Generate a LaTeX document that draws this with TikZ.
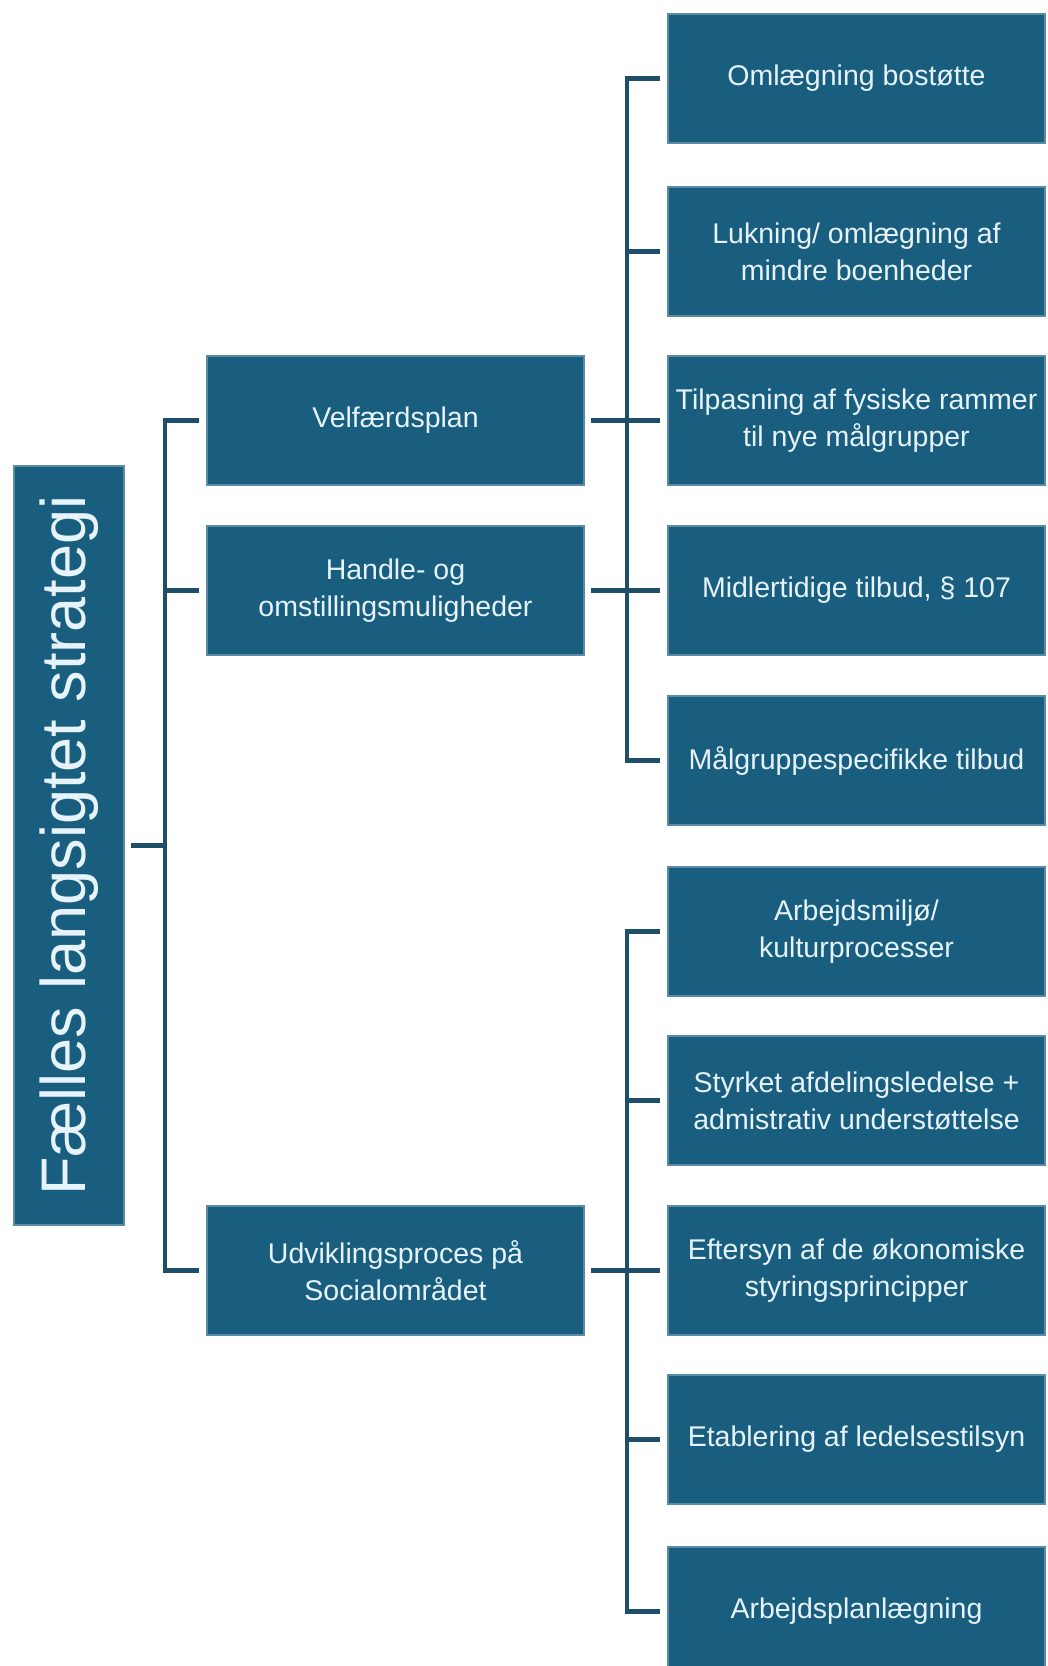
\documentclass[tikz,border=0pt]{standalone}
\usepackage{fontspec}
\setmainfont{Liberation Sans}
\definecolor{boxfill}{HTML}{195E7E}
\definecolor{boxedge}{HTML}{5A8CA6}
\definecolor{linecol}{HTML}{1E4E69}
\definecolor{txtcol}{HTML}{E6F3FA}
\tikzset{
  card/.style={draw=boxedge, line width=1.5pt, fill=boxfill, text=txtcol,
    minimum width=377pt, minimum height=129pt, inner sep=0pt, align=center,
    font=\fontsize{28.5}{37}\selectfont},
  rootbox/.style={draw=boxedge, line width=1.5pt, fill=boxfill, text=txtcol,
    minimum width=759pt, minimum height=110pt, inner sep=0pt, rotate=90,
    font=\fontsize{63}{70}\selectfont},
  conn/.style={draw=linecol, line width=4.5pt}
}
\begin{document}
\begin{tikzpicture}[x=1pt,y=-1pt]
\useasboundingbox (0,0) rectangle (1048,1666);
\clip (0,0) rectangle (1048,1666);
% root
\node[rootbox] (root) at (69,845.5) {Fælles langsigtet strategi};
% middle
\node[card] (vel) at (395.5,420.5) {Velfærdsplan};
\node[card] (han) at (395.5,590.5) {Handle- og\\omstillingsmuligheder};
\node[card] (udv) at (395.5,1270.5) {Udviklingsproces på\\Socialområdet};
% right column
\node[card] (r1) at (856.5,78.5) {Omlægning bostøtte};
\node[card] (r2) at (856.5,251.5) {Lukning/ omlægning af\\mindre boenheder};
\node[card] (r3) at (856.5,420.5) {Tilpasning af fysiske rammer\\til nye målgrupper};
\node[card] (r4) at (856.5,590.5) {Midlertidige tilbud, § 107};
\node[card] (r5) at (856.5,760.5) {Målgruppespecifikke tilbud};
\node[card] (r6) at (856.5,931.5) {Arbejdsmiljø/\\kulturprocesser};
\node[card] (r7) at (856.5,1100.5) {Styrket afdelingsledelse +\\admistrativ understøttelse};
\node[card] (r8) at (856.5,1270.5) {Eftersyn af de økonomiske\\styringsprincipper};
\node[card] (r9) at (856.5,1439.5) {Etablering af ledelsestilsyn};
\node[card] (r10) at (856.5,1611.5) {Arbejdsplanlægning};
% junctions
\coordinate (jL) at (165,845.5);
\coordinate (jA) at (627,420.5);
\coordinate (jB) at (627,1270.5);
% left bracket
\draw[conn] ([xshift=6pt]root.south) -- (jL);
\draw[conn] ([xshift=-7pt]vel.west) -| (jL) |- ([xshift=-7pt]udv.west);
\draw[conn] ([xshift=-7pt]han.west) -- (jL |- han.west);
% upper right bracket
\draw[conn] ([xshift=-7pt]r1.west) -| (jA) |- ([xshift=-7pt]r5.west);
\draw[conn] ([xshift=-7pt]r2.west) -- (jA |- r2.west);
\draw[conn] ([xshift=-7pt]r3.west) -- (jA |- r3.west);
\draw[conn] ([xshift=-7pt]r4.west) -- (jA |- r4.west);
\draw[conn] ([xshift=6pt]vel.east) -- (jA);
\draw[conn] ([xshift=6pt]han.east) -- (jA |- han.east);
% lower right bracket
\draw[conn] ([xshift=-7pt]r6.west) -| (jB) |- ([xshift=-7pt]r10.west);
\draw[conn] ([xshift=-7pt]r7.west) -- (jB |- r7.west);
\draw[conn] ([xshift=-7pt]r8.west) -- (jB |- r8.west);
\draw[conn] ([xshift=-7pt]r9.west) -- (jB |- r9.west);
\draw[conn] ([xshift=6pt]udv.east) -- (jB);
\end{tikzpicture}
\end{document}
